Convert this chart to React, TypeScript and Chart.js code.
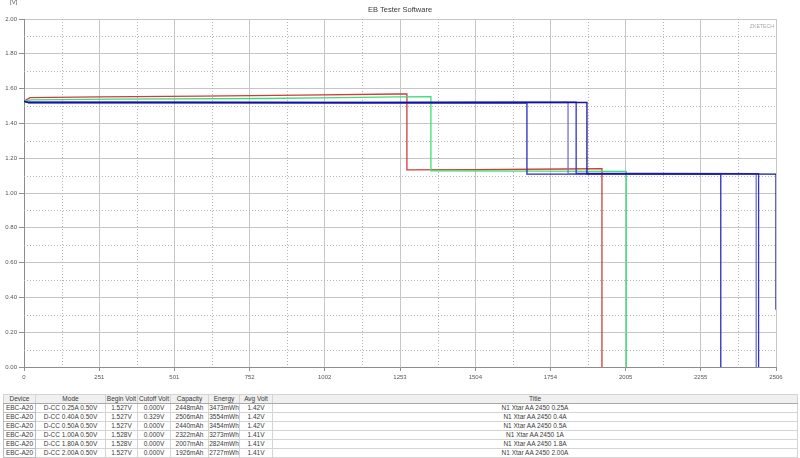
import React, { useEffect, useRef } from "react";
import { Chart, registerables } from "chart.js";

Chart.register(...registerables);

// ---- axis ticks ----
const xTickValues = [0, 251, 501, 752, 1002, 1253, 1504, 1754, 2005, 2255, 2506];
const yTickValues = [0, 0.2, 0.4, 0.6, 0.8, 1.0, 1.2, 1.4, 1.6, 1.8, 2.0];
const xMax = 2506;
const yMax = 2.0;

// ---- curves: [capacity mAh, voltage V] ----
const curve025A: [number, number][] = [
  [0, 1.527], [15, 1.522], [400, 1.522], [1000, 1.521], [1500, 1.522], [1840, 1.522],
  [1840, 1.112], [2100, 1.112], [2448, 1.111], [2448, 0],
];
const curve040A: [number, number][] = [
  [0, 1.527], [15, 1.520], [500, 1.520], [1200, 1.519], [1600, 1.520], [1876, 1.520],
  [1876, 1.110], [2200, 1.110], [2506, 1.109], [2506, 0.329],
];
const curve050A: [number, number][] = [
  [0, 1.527], [15, 1.521], [600, 1.521], [1300, 1.520], [1813, 1.521],
  [1813, 1.111], [2100, 1.111], [2440, 1.110], [2440, 0],
];
const curve100A: [number, number][] = [
  [0, 1.528], [15, 1.518], [500, 1.518], [1100, 1.517], [1676, 1.518],
  [1676, 1.108], [2000, 1.108], [2322, 1.107], [2322, 0],
];
const curve180A: [number, number][] = [
  [0, 1.528], [25, 1.535], [300, 1.540], [800, 1.543], [1050, 1.548], [1250, 1.552], [1356, 1.554],
  [1356, 1.128], [1700, 1.126], [2007, 1.124], [2007, 0],
];
const curve200A: [number, number][] = [
  [0, 1.527], [20, 1.548], [250, 1.553], [590, 1.557], [920, 1.563], [1250, 1.569], [1276, 1.570],
  [1276, 1.133], [1500, 1.134], [1800, 1.138], [1926, 1.140], [1926, 0],
];

const seriesCurves = [curve040A, curve025A, curve050A, curve100A, curve180A, curve200A];
const seriesLabels = ["0.4A", "0.25A", "0.5A", "1A", "1.8A", "2.00A"];
const seriesColors = ["#14149a", "#3232cc", "#7272d8", "#2a2ac0", "#3ce070", "#d43a3a"];

// ---- table ----
const tableHeaders = ["Device", "Mode", "Begin Volt", "Cutoff Volt", "Capacity", "Energy", "Avg Volt", "Title"];
const devices = ["EBC-A20", "EBC-A20", "EBC-A20", "EBC-A20", "EBC-A20", "EBC-A20"];
const modes = ["D-CC 0.25A 0.50V", "D-CC 0.40A 0.50V", "D-CC 0.50A 0.50V", "D-CC 1.00A 0.50V", "D-CC 1.80A 0.50V", "D-CC 2.00A 0.50V"];
const beginVolts = ["1.527V", "1.527V", "1.527V", "1.528V", "1.528V", "1.527V"];
const cutoffVolts = ["0.000V", "0.329V", "0.000V", "0.000V", "0.000V", "0.000V"];
const capacities = ["2448mAh", "2506mAh", "2440mAh", "2322mAh", "2007mAh", "1926mAh"];
const energies = ["3473mWh", "3554mWh", "3454mWh", "3273mWh", "2824mWh", "2727mWh"];
const avgVolts = ["1.42V", "1.42V", "1.42V", "1.41V", "1.41V", "1.41V"];
const titles = ["N1 Xtar AA 2450 0.25A", "N1 Xtar AA 2450 0.4A", "N1 Xtar AA 2450 0.5A", "N1 Xtar AA 2450 1A", "N1 Xtar AA 2450 1.8A", "N1 Xtar AA 2450 2.00A"];
const colWidths = [32, 70, 32, 33, 38, 31, 33, 525];

const FONT = "'Liberation Sans', Arial, sans-serif";

const decorPlugin = {
  id: "decor",
  beforeDatasetsDraw(chart: any) {
    const { ctx, chartArea, scales } = chart;
    const xs = scales.x;
    const ys = scales.y;
    ctx.save();
    ctx.strokeStyle = "#b4b4b4";
    ctx.lineWidth = 1;
    ctx.setLineDash([1, 2]);
    for (let i = 0; i < xTickValues.length - 1; i++) {
      const v = (xTickValues[i] + xTickValues[i + 1]) / 2;
      const px = Math.round(xs.getPixelForValue(v)) + 0.5;
      ctx.beginPath();
      ctx.moveTo(px, chartArea.top);
      ctx.lineTo(px, chartArea.bottom);
      ctx.stroke();
    }
    for (let i = 0; i < yTickValues.length - 1; i++) {
      const v = (yTickValues[i] + yTickValues[i + 1]) / 2;
      const py = Math.round(ys.getPixelForValue(v)) + 0.5;
      ctx.beginPath();
      ctx.moveTo(chartArea.left, py);
      ctx.lineTo(chartArea.right, py);
      ctx.stroke();
    }
    ctx.restore();
  },
  afterDraw(chart: any) {
    const { ctx, chartArea } = chart;
    ctx.save();
    ctx.fillStyle = "#3a3a3a";
    ctx.font = `7.5px ${FONT}`;
    ctx.textAlign = "center";
    ctx.textBaseline = "middle";
    ctx.fillText("EB Tester Software", 400, 10);
    ctx.font = `6px ${FONT}`;
    ctx.fillStyle = "#555";
    ctx.textAlign = "left";
    ctx.fillText("[V]", 10, 2);
    ctx.font = `5.2px ${FONT}`;
    ctx.fillStyle = "#a8a8a8";
    ctx.textAlign = "right";
    ctx.fillText("ZKETECH", chartArea.right - 2, 27);
    ctx.restore();
  },
};

export default function App() {
  const canvasRef = useRef<HTMLCanvasElement | null>(null);

  useEffect(() => {
    document.body.style.margin = "0";
    const canvas = canvasRef.current;
    if (!canvas) return;
    const chart = new Chart(canvas, {
      type: "line",
      data: {
        datasets: seriesCurves.map((curve, i) => ({
          label: seriesLabels[i],
          data: curve.map(([x, y]) => ({ x, y })),
          borderColor: seriesColors[i],
          backgroundColor: seriesColors[i],
          borderWidth: 1.3,
          pointRadius: 0,
          tension: 0,
          fill: false,
        })),
      },
      options: {
        responsive: false,
        animation: false,
        devicePixelRatio: 1,
        layout: { padding: { top: 19, right: 24, left: 0, bottom: 0 } },
        plugins: {
          legend: { display: false },
          tooltip: { enabled: false },
          title: { display: false },
        },
        scales: {
          x: {
            type: "linear",
            min: 0,
            max: xMax,
            afterBuildTicks: (s: any) => {
              s.ticks = xTickValues.map((v) => ({ value: v }));
            },
            afterFit: (s: any) => {
              s.height = 23;
            },
            ticks: {
              autoSkip: false,
              maxRotation: 0,
              padding: 3,
              color: "#555",
              font: { size: 6, family: FONT },
              callback: (v: any) => String(v),
            },
            grid: { color: "#c6c6c6", lineWidth: 1, tickLength: 4, tickColor: "#909090" },
            border: { color: "#8c8c8c", width: 1 },
          },
          y: {
            type: "linear",
            min: 0,
            max: yMax,
            afterBuildTicks: (s: any) => {
              s.ticks = yTickValues.map((v) => ({ value: v }));
            },
            afterFit: (s: any) => {
              s.width = 24;
            },
            ticks: {
              autoSkip: false,
              padding: 2,
              color: "#555",
              font: { size: 6, family: FONT },
              callback: (v: any) => Number(v).toFixed(2),
            },
            grid: { color: "#c6c6c6", lineWidth: 1, tickLength: 5, tickColor: "#909090" },
            border: { color: "#8c8c8c", width: 1 },
          },
        },
      },
      plugins: [decorPlugin],
    } as any);
    return () => chart.destroy();
  }, []);

  const rows = devices.map((d, i) => [d, modes[i], beginVolts[i], cutoffVolts[i], capacities[i], energies[i], avgVolts[i], titles[i]]);

  const cellStyle: React.CSSProperties = {
    border: "1px solid #d4d4d4",
    padding: 0,
    height: 8,
    lineHeight: "8px",
    textAlign: "center",
    whiteSpace: "nowrap",
    overflow: "hidden",
  };

  return (
    <div style={{ position: "absolute", left: 0, top: 0, width: 800, height: 458, background: "#fff", fontFamily: FONT }}>
      <canvas ref={canvasRef} width={800} height={390} style={{ display: "block", width: 800, height: 390 }} />
      <table
        style={{
          position: "absolute",
          left: 3,
          top: 394,
          width: 794,
          borderCollapse: "collapse",
          tableLayout: "fixed",
          fontSize: "6.5px",
          color: "#3a3a3a",
          border: "1px solid #a8a8a8",
        }}
      >
        <colgroup>
          {colWidths.map((w, i) => (
            <col key={i} style={{ width: w }} />
          ))}
        </colgroup>
        <thead>
          <tr>
            {tableHeaders.map((h, i) => (
              <th key={i} style={{ ...cellStyle, fontWeight: "normal", background: "#f0f0f0", borderBottom: "1px solid #a8a8a8" }}>
                {h}
              </th>
            ))}
          </tr>
        </thead>
        <tbody>
          {rows.map((r, ri) => (
            <tr key={ri}>
              {r.map((c, ci) => (
                <td key={ci} style={{ ...cellStyle, border: ci === 0 ? "1px solid #bdbdbd" : cellStyle.border }}>
                  {c}
                </td>
              ))}
            </tr>
          ))}
        </tbody>
      </table>
    </div>
  );
}
